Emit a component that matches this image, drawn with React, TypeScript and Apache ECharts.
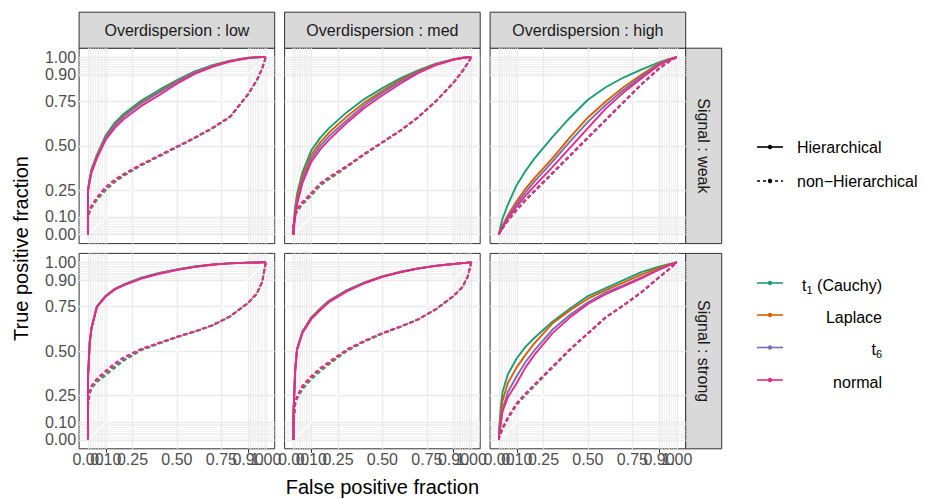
import React, { useEffect, useRef } from "react";
import * as echarts from "echarts";

// ---------- data ----------
const FPR = [0, 0, 0.01, 0.02, 0.05, 0.1, 0.15, 0.2, 0.3, 0.4, 0.5, 0.6, 0.7, 0.8, 0.9, 0.95, 0.98, 1];

const DISTS = ["t1 (Cauchy)", "Laplace", "t6", "normal"];
const DIST_LABELS = ["{n|t}{s|1}{n| (Cauchy)}", "{n|Laplace}", "{n|t}{s|6}", "{n|normal}"];
const COLORS = ["#1B9E77", "#D95F02", "#7570B3", "#E7298A"];
const TYPES = ["Hierarchical", "non\u2212Hierarchical"];
const OVERDISPERSION = ["low", "med", "high"];
const SIGNAL = ["weak", "strong"];
const TICKS = [0, 0.1, 0.25, 0.5, 0.75, 0.9, 1];
const TICKS_A = [0, 0.25, 0.5, 0.75, 1];
const TICKS_B = [0.1, 0.9];
const MINOR = [0.01, 0.02, 0.03, 0.04, 0.05, 0.06, 0.07, 0.08, 0.09, 0.91, 0.92, 0.93, 0.94, 0.95, 0.96, 0.97, 0.98, 0.99];

// Overdispersion low, signal weak
const lowWeak_H_t1 = [0, 0.26, 0.32, 0.37, 0.45, 0.56, 0.63, 0.68, 0.755, 0.815, 0.87, 0.92, 0.955, 0.98, 0.996, 0.999, 1, 1];
const lowWeak_H_laplace = [0, 0.25, 0.31, 0.36, 0.445, 0.55, 0.62, 0.67, 0.745, 0.805, 0.865, 0.915, 0.952, 0.978, 0.995, 0.999, 1, 1];
const lowWeak_H_t6 = [0, 0.25, 0.31, 0.36, 0.44, 0.545, 0.615, 0.665, 0.74, 0.8, 0.86, 0.912, 0.95, 0.977, 0.995, 0.999, 1, 1];
const lowWeak_H_normal = [0, 0.24, 0.3, 0.35, 0.43, 0.535, 0.6, 0.65, 0.725, 0.785, 0.85, 0.905, 0.945, 0.975, 0.994, 0.999, 1, 1];
const lowWeak_N_t1 = [0, 0.1, 0.13, 0.15, 0.195, 0.25, 0.295, 0.33, 0.39, 0.44, 0.492, 0.543, 0.598, 0.662, 0.788, 0.868, 0.935, 1];
const lowWeak_N_laplace = [0, 0.1, 0.135, 0.155, 0.2, 0.26, 0.3, 0.335, 0.392, 0.443, 0.494, 0.545, 0.6, 0.664, 0.79, 0.87, 0.937, 1];
const lowWeak_N_t6 = [0, 0.105, 0.14, 0.16, 0.205, 0.265, 0.305, 0.338, 0.394, 0.445, 0.495, 0.546, 0.601, 0.665, 0.79, 0.87, 0.937, 1];
const lowWeak_N_normal = [0, 0.11, 0.145, 0.165, 0.21, 0.27, 0.31, 0.342, 0.397, 0.447, 0.497, 0.547, 0.602, 0.666, 0.792, 0.872, 0.938, 1];

// Overdispersion med, signal weak
const medWeak_H_t1 = [0, 0.05, 0.16, 0.23, 0.35, 0.475, 0.545, 0.6, 0.69, 0.765, 0.825, 0.88, 0.925, 0.963, 0.988, 0.996, 0.999, 1];
const medWeak_H_laplace = [0, 0.04, 0.14, 0.21, 0.33, 0.45, 0.52, 0.575, 0.665, 0.745, 0.81, 0.87, 0.92, 0.96, 0.987, 0.996, 0.999, 1];
const medWeak_H_t6 = [0, 0.03, 0.12, 0.19, 0.31, 0.43, 0.5, 0.555, 0.645, 0.73, 0.8, 0.862, 0.915, 0.957, 0.986, 0.995, 0.999, 1];
const medWeak_H_normal = [0, 0.02, 0.1, 0.17, 0.29, 0.41, 0.48, 0.535, 0.63, 0.715, 0.785, 0.85, 0.91, 0.955, 0.985, 0.995, 0.999, 1];
const medWeak_N_t1 = [0, 0.04, 0.11, 0.13, 0.17, 0.22, 0.275, 0.312, 0.38, 0.452, 0.518, 0.584, 0.659, 0.75, 0.855, 0.92, 0.965, 1];
const medWeak_N_laplace = [0, 0.045, 0.115, 0.135, 0.175, 0.225, 0.28, 0.316, 0.383, 0.454, 0.519, 0.585, 0.66, 0.75, 0.855, 0.92, 0.965, 1];
const medWeak_N_t6 = [0, 0.05, 0.12, 0.14, 0.18, 0.23, 0.285, 0.32, 0.385, 0.455, 0.52, 0.585, 0.66, 0.751, 0.856, 0.921, 0.966, 1];
const medWeak_N_normal = [0, 0.055, 0.125, 0.145, 0.185, 0.235, 0.29, 0.325, 0.388, 0.457, 0.522, 0.587, 0.662, 0.752, 0.857, 0.922, 0.966, 1];

// Overdispersion high, signal weak
const highWeak_H_t1 = [0, 0.01, 0.05, 0.09, 0.17, 0.28, 0.36, 0.43, 0.55, 0.66, 0.76, 0.83, 0.885, 0.93, 0.97, 0.987, 0.995, 1];
const highWeak_H_laplace = [0, 0.005, 0.03, 0.05, 0.11, 0.19, 0.26, 0.32, 0.43, 0.55, 0.66, 0.75, 0.83, 0.9, 0.965, 0.985, 0.994, 1];
const highWeak_H_t6 = [0, 0.005, 0.025, 0.045, 0.1, 0.175, 0.24, 0.3, 0.41, 0.525, 0.635, 0.73, 0.815, 0.89, 0.96, 0.983, 0.993, 1];
const highWeak_H_normal = [0, 0.005, 0.02, 0.04, 0.09, 0.16, 0.22, 0.275, 0.38, 0.49, 0.6, 0.71, 0.8, 0.88, 0.955, 0.98, 0.992, 1];
const highWeak_N_t1 = [0, 0.005, 0.02, 0.035, 0.078, 0.138, 0.193, 0.243, 0.343, 0.443, 0.543, 0.643, 0.743, 0.843, 0.934, 0.97, 0.99, 1];
const highWeak_N_laplace = [0, 0.005, 0.021, 0.036, 0.08, 0.14, 0.195, 0.245, 0.345, 0.445, 0.545, 0.645, 0.745, 0.845, 0.935, 0.97, 0.99, 1];
const highWeak_N_t6 = [0, 0.005, 0.021, 0.037, 0.081, 0.141, 0.196, 0.246, 0.346, 0.446, 0.546, 0.646, 0.746, 0.846, 0.936, 0.971, 0.99, 1];
const highWeak_N_normal = [0, 0.006, 0.022, 0.038, 0.083, 0.143, 0.198, 0.248, 0.348, 0.448, 0.548, 0.648, 0.748, 0.847, 0.937, 0.971, 0.99, 1];

// Overdispersion low, signal strong
const lowStrong_H_t1 = [0, 0.36, 0.56, 0.635, 0.752, 0.812, 0.85, 0.875, 0.913, 0.94, 0.96, 0.976, 0.988, 0.995, 0.998, 0.999, 1, 1];
const lowStrong_H_laplace = [0, 0.355, 0.555, 0.632, 0.751, 0.811, 0.849, 0.873, 0.911, 0.938, 0.959, 0.975, 0.987, 0.994, 0.998, 0.999, 1, 1];
const lowStrong_H_t6 = [0, 0.35, 0.55, 0.63, 0.75, 0.81, 0.848, 0.872, 0.91, 0.937, 0.958, 0.975, 0.987, 0.994, 0.998, 0.999, 1, 1];
const lowStrong_H_normal = [0, 0.345, 0.545, 0.627, 0.748, 0.808, 0.846, 0.87, 0.908, 0.935, 0.956, 0.974, 0.986, 0.994, 0.998, 0.999, 1, 1];
const lowStrong_N_t1 = [0, 0.19, 0.26, 0.29, 0.325, 0.365, 0.405, 0.445, 0.505, 0.542, 0.578, 0.609, 0.644, 0.695, 0.77, 0.823, 0.89, 1];
const lowStrong_N_laplace = [0, 0.2, 0.265, 0.295, 0.333, 0.375, 0.415, 0.452, 0.508, 0.544, 0.579, 0.61, 0.645, 0.695, 0.77, 0.824, 0.89, 1];
const lowStrong_N_t6 = [0, 0.2, 0.27, 0.3, 0.338, 0.38, 0.42, 0.456, 0.51, 0.545, 0.58, 0.61, 0.645, 0.696, 0.771, 0.825, 0.891, 1];
const lowStrong_N_normal = [0, 0.21, 0.275, 0.305, 0.345, 0.39, 0.43, 0.465, 0.513, 0.547, 0.581, 0.611, 0.646, 0.697, 0.772, 0.826, 0.892, 1];

// Overdispersion med, signal strong
const medStrong_H_t1 = [0, 0.16, 0.41, 0.515, 0.61, 0.69, 0.74, 0.785, 0.843, 0.887, 0.921, 0.946, 0.966, 0.981, 0.99, 0.995, 0.998, 1];
const medStrong_H_laplace = [0, 0.155, 0.405, 0.512, 0.607, 0.687, 0.737, 0.782, 0.841, 0.886, 0.92, 0.945, 0.965, 0.98, 0.99, 0.995, 0.998, 1];
const medStrong_H_t6 = [0, 0.15, 0.4, 0.51, 0.605, 0.685, 0.735, 0.78, 0.84, 0.885, 0.92, 0.945, 0.965, 0.98, 0.99, 0.995, 0.998, 1];
const medStrong_H_normal = [0, 0.145, 0.39, 0.505, 0.6, 0.68, 0.73, 0.776, 0.836, 0.882, 0.918, 0.944, 0.964, 0.98, 0.99, 0.995, 0.998, 1];
const medStrong_N_t1 = [0, 0.09, 0.2, 0.23, 0.285, 0.34, 0.385, 0.425, 0.5, 0.553, 0.598, 0.636, 0.677, 0.734, 0.809, 0.86, 0.92, 1];
const medStrong_N_laplace = [0, 0.1, 0.205, 0.235, 0.293, 0.348, 0.393, 0.43, 0.504, 0.555, 0.599, 0.637, 0.678, 0.735, 0.81, 0.86, 0.92, 1];
const medStrong_N_t6 = [0, 0.1, 0.21, 0.24, 0.3, 0.355, 0.4, 0.435, 0.507, 0.557, 0.6, 0.637, 0.678, 0.735, 0.81, 0.86, 0.92, 1];
const medStrong_N_normal = [0, 0.11, 0.215, 0.245, 0.305, 0.36, 0.405, 0.44, 0.51, 0.559, 0.602, 0.638, 0.679, 0.736, 0.811, 0.861, 0.921, 1];

// Overdispersion high, signal strong
const highStrong_H_t1 = [0, 0.05, 0.18, 0.27, 0.37, 0.46, 0.525, 0.575, 0.665, 0.74, 0.81, 0.855, 0.9, 0.945, 0.975, 0.988, 0.995, 1];
const highStrong_H_laplace = [0, 0.03, 0.14, 0.22, 0.32, 0.41, 0.48, 0.545, 0.655, 0.73, 0.795, 0.843, 0.885, 0.93, 0.968, 0.985, 0.994, 1];
const highStrong_H_t6 = [0, 0.02, 0.1, 0.17, 0.27, 0.36, 0.44, 0.505, 0.62, 0.705, 0.775, 0.83, 0.87, 0.915, 0.96, 0.982, 0.993, 1];
const highStrong_H_normal = [0, 0.02, 0.09, 0.16, 0.24, 0.32, 0.41, 0.48, 0.6, 0.69, 0.765, 0.82, 0.865, 0.91, 0.958, 0.98, 0.992, 1];
const highStrong_N_t1 = [0, 0.01, 0.035, 0.06, 0.118, 0.197, 0.252, 0.303, 0.405, 0.507, 0.598, 0.688, 0.756, 0.83, 0.915, 0.955, 0.982, 1];
const highStrong_N_laplace = [0, 0.01, 0.038, 0.063, 0.122, 0.202, 0.257, 0.307, 0.408, 0.509, 0.599, 0.689, 0.757, 0.83, 0.915, 0.955, 0.982, 1];
const highStrong_N_t6 = [0, 0.01, 0.04, 0.065, 0.125, 0.205, 0.26, 0.31, 0.41, 0.51, 0.6, 0.69, 0.757, 0.83, 0.915, 0.955, 0.982, 1];
const highStrong_N_normal = [0, 0.012, 0.043, 0.068, 0.128, 0.208, 0.263, 0.313, 0.412, 0.512, 0.601, 0.691, 0.758, 0.831, 0.916, 0.956, 0.982, 1];

// panels in row-major order: [signal row][overdispersion col]
const PANEL_CURVES = [
  [[lowWeak_H_t1, lowWeak_H_laplace, lowWeak_H_t6, lowWeak_H_normal], [lowWeak_N_t1, lowWeak_N_laplace, lowWeak_N_t6, lowWeak_N_normal]],
  [[medWeak_H_t1, medWeak_H_laplace, medWeak_H_t6, medWeak_H_normal], [medWeak_N_t1, medWeak_N_laplace, medWeak_N_t6, medWeak_N_normal]],
  [[highWeak_H_t1, highWeak_H_laplace, highWeak_H_t6, highWeak_H_normal], [highWeak_N_t1, highWeak_N_laplace, highWeak_N_t6, highWeak_N_normal]],
  [[lowStrong_H_t1, lowStrong_H_laplace, lowStrong_H_t6, lowStrong_H_normal], [lowStrong_N_t1, lowStrong_N_laplace, lowStrong_N_t6, lowStrong_N_normal]],
  [[medStrong_H_t1, medStrong_H_laplace, medStrong_H_t6, medStrong_H_normal], [medStrong_N_t1, medStrong_N_laplace, medStrong_N_t6, medStrong_N_normal]],
  [[highStrong_H_t1, highStrong_H_laplace, highStrong_H_t6, highStrong_H_normal], [highStrong_N_t1, highStrong_N_laplace, highStrong_N_t6, highStrong_N_normal]],
];

// ---------- layout ----------
const FONT = "Liberation Sans, Arial, Helvetica, sans-serif";
const PANEL_LEFT = [79.1, 284.6, 490.1];
const PANEL_TOP = [48.2, 253.4];
const PANEL_W = 195.6;
const PANEL_H = 195.4;
const STRIP = 36;

function axisDef(p: number, showIt: boolean, ticks: number[], extra: any = {}) {
  return {
    gridIndex: p,
    type: "value",
    min: -0.05,
    max: 1.05,
    axisLine: { show: false },
    splitLine: { show: false },
    axisTick: { show: showIt, customValues: ticks, length: 4, lineStyle: { color: "#333333", width: 1 } },
    axisLabel: {
      show: showIt,
      customValues: ticks,
      formatter: (v: number) => v.toFixed(2),
      color: "#4D4D4D",
      fontSize: 16,
      fontFamily: FONT,
      margin: 3,
      hideOverlap: false,
      showMinLabel: true,
      showMaxLabel: true,
    },
    ...extra,
  };
}

function buildOption() {
  const grids: any[] = [];
  const xAxes: any[] = [];
  const yAxes: any[] = [];
  const series: any[] = [];
  const graphic: any[] = [];

  for (let r = 0; r < 2; r++) {
    for (let c = 0; c < 3; c++) {
      const p = r * 3 + c;
      grids.push({
        left: PANEL_LEFT[c],
        top: PANEL_TOP[r],
        width: PANEL_W,
        height: PANEL_H,
        show: true,
        backgroundColor: "#FFFFFF",
        borderColor: "#333333",
        borderWidth: 1,
        containLabel: false,
      });
      xAxes.push(axisDef(p, r === 1, TICKS_A, { position: "bottom", offset: 0 }));
      yAxes.push(axisDef(p, c === 0, TICKS, { position: "left", offset: 0 }));

      // grid lines + diagonal reference
      const ml: any[] = [];
      MINOR.forEach((v) => {
        ml.push({ xAxis: v, lineStyle: { color: "#EBEBEB", width: 0.7, type: "solid" } });
        ml.push({ yAxis: v, lineStyle: { color: "#EBEBEB", width: 0.7, type: "solid" } });
      });
      TICKS.forEach((v) => {
        ml.push({ xAxis: v, lineStyle: { color: "#EBEBEB", width: 1.4, type: "solid" } });
        ml.push({ yAxis: v, lineStyle: { color: "#EBEBEB", width: 1.4, type: "solid" } });
      });
      ml.push([
        { coord: [0, 0], lineStyle: { color: "#FFFFFF", width: 1.4, type: "solid" } },
        { coord: [1, 1] },
      ]);
      series.push({
        type: "line",
        xAxisIndex: p,
        yAxisIndex: p,
        data: [[0, 0]],
        symbol: "none",
        showSymbol: false,
        lineStyle: { width: 0, opacity: 0 },
        silent: true,
        z: 1,
        markLine: {
          z: 1,
          silent: true,
          symbol: ["none", "none"],
          label: { show: false },
          emphasis: { disabled: true },
          animation: false,
          data: ml,
        },
      });

      // data curves
      const curves = PANEL_CURVES[p];
      for (let d = 0; d < DISTS.length; d++) {
        for (let t = 0; t < TYPES.length; t++) {
          const tpr = curves[t][d];
          series.push({
            type: "line",
            name: DISTS[d],
            xAxisIndex: p,
            yAxisIndex: p,
            data: FPR.map((x, i) => [x, tpr[i]]),
            symbol: "none",
            showSymbol: false,
            clip: true,
            z: 10 + d,
            silent: true,
            lineStyle: { color: COLORS[d], width: 1.9, type: t === 0 ? "solid" : [4, 2.7] },
          });
        }
      }
    }
  }
  // second set of x axes on the bottom row for the 0.10 / 0.90 labels
  for (let c = 0; c < 3; c++) {
    const p = 3 + c;
    xAxes.push(axisDef(p, true, TICKS_B, { position: "bottom", offset: 0 }));
  }

  // top strips
  for (let c = 0; c < 3; c++) {
    graphic.push({
      type: "rect",
      shape: { x: PANEL_LEFT[c], y: PANEL_TOP[0] - STRIP, width: PANEL_W, height: STRIP },
      style: { fill: "#D9D9D9", stroke: "#333333", lineWidth: 1 },
    });
    graphic.push({
      type: "text",
      x: PANEL_LEFT[c] + PANEL_W / 2,
      y: PANEL_TOP[0] - STRIP / 2,
      style: {
        text: "Overdispersion : " + OVERDISPERSION[c],
        fill: "#1A1A1A",
        fontSize: 16,
        fontFamily: FONT,
        align: "center",
        verticalAlign: "middle",
      },
    });
  }
  // right strips
  const rx = PANEL_LEFT[2] + PANEL_W;
  for (let r = 0; r < 2; r++) {
    graphic.push({
      type: "rect",
      shape: { x: rx, y: PANEL_TOP[r], width: STRIP, height: PANEL_H },
      style: { fill: "#D9D9D9", stroke: "#333333", lineWidth: 1 },
    });
    graphic.push({
      type: "text",
      x: rx + STRIP / 2,
      y: PANEL_TOP[r] + PANEL_H / 2,
      rotation: -Math.PI / 2,
      style: {
        text: "Signal : " + SIGNAL[r],
        fill: "#1A1A1A",
        fontSize: 16,
        fontFamily: FONT,
        align: "center",
        verticalAlign: "middle",
      },
    });
  }
  // axis titles
  graphic.push({
    type: "text",
    x: (PANEL_LEFT[0] + PANEL_LEFT[2] + PANEL_W) / 2,
    y: 487,
    style: { text: "False positive fraction", fill: "#000000", fontSize: 20, fontFamily: FONT, align: "center", verticalAlign: "middle" },
  });
  graphic.push({
    type: "text",
    x: 21,
    y: (PANEL_TOP[0] + PANEL_TOP[1] + PANEL_H) / 2,
    rotation: Math.PI / 2,
    style: { text: "True positive fraction", fill: "#000000", fontSize: 20, fontFamily: FONT, align: "center", verticalAlign: "middle" },
  });

  // legend: line type
  const LT_Y = [147, 181];
  TYPES.forEach((name, i) => {
    graphic.push({
      type: "line",
      shape: { x1: 757, y1: LT_Y[i], x2: 783, y2: LT_Y[i] },
      style: { stroke: "#000000", lineWidth: 1.6, lineDash: i === 0 ? null : [3, 3] },
    });
    graphic.push({ type: "circle", shape: { cx: 770, cy: LT_Y[i], r: 2.2 }, style: { fill: "#000000" } });
    graphic.push({
      type: "text",
      x: 797,
      y: LT_Y[i],
      style: { text: name, fill: "#000000", fontSize: 16, fontFamily: FONT, align: "left", verticalAlign: "middle" },
    });
  });
  // legend: colours
  const CL_Y = [283, 315, 347.5, 380];
  DISTS.forEach((name, i) => {
    graphic.push({
      type: "line",
      shape: { x1: 757, y1: CL_Y[i], x2: 783, y2: CL_Y[i] },
      style: { stroke: COLORS[i], lineWidth: 1.6 },
    });
    graphic.push({ type: "circle", shape: { cx: 770, cy: CL_Y[i], r: 2.2 }, style: { fill: COLORS[i] } });
    graphic.push({
      type: "text",
      x: 882,
      y: CL_Y[i] + 2,
      style: {
        text: DIST_LABELS[i],
        fill: "#000000",
        fontFamily: FONT,
        align: "right",
        verticalAlign: "middle",
        rich: {
          n: { fontSize: 16, fontFamily: FONT, lineHeight: 20, fill: "#000000" },
          s: { fontSize: 11, fontFamily: FONT, lineHeight: 12, verticalAlign: "bottom", fill: "#000000" },
        },
      },
    });
  });

  return {
    animation: false,
    backgroundColor: "#FFFFFF",
    grid: grids,
    xAxis: xAxes,
    yAxis: yAxes,
    series,
    graphic: { elements: graphic },
  };
}

export default function App() {
  const ref = useRef<HTMLDivElement>(null);
  useEffect(() => {
    document.body.style.margin = "0";
    if (!ref.current) return;
    const chart = echarts.init(ref.current, null, { renderer: "svg" });
    chart.setOption(buildOption() as any);
    return () => chart.dispose();
  }, []);
  return <div ref={ref} style={{ width: 925, height: 499 }} />;
}
